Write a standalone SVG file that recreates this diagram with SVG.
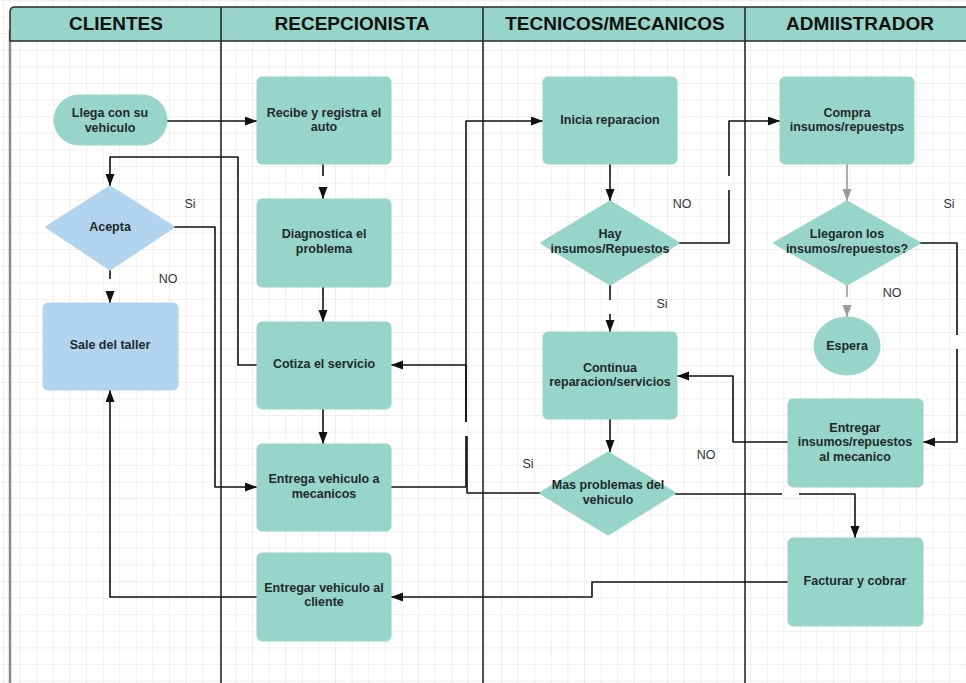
<svg xmlns="http://www.w3.org/2000/svg" width="966" height="683" viewBox="0 0 966 683">
  <defs>
    <pattern id="grid" width="16.6" height="16.6" patternUnits="userSpaceOnUse" x="4" y="1">
      <path d="M16.6,0 V16.6 M0,16.6 H16.6" fill="none" stroke="#e0e0e0" stroke-width="1"/>
    </pattern>
    <marker id="arr" markerUnits="userSpaceOnUse" markerWidth="13" markerHeight="10" refX="12" refY="4.5" orient="auto">
      <path d="M0,0 L12,4.5 L0,9 z" fill="#111"/>
    </marker>
    <marker id="arrGrey" markerUnits="userSpaceOnUse" markerWidth="13" markerHeight="10" refX="12" refY="4.5" orient="auto">
      <path d="M0,0 L12,4.5 L0,9 z" fill="#9a9a9a"/>
    </marker>
  </defs>
  <style>
    .lane { stroke: #2a2a2a; stroke-width: 1.6; fill: none; }
    .hdr { fill: #98d5c9; stroke: #2a2a2a; stroke-width: 1.5; }
    .htxt { font-family: "Liberation Sans", Arial, sans-serif; font-weight: bold; font-size: 19px; fill: #111; text-anchor: middle; dominant-baseline: central; }
    .box { fill: #98d5c9; stroke: #98d5c9; stroke-width: 1; }
    .blue { fill: #b2d4ee; stroke: #b2d4ee; stroke-width: 1; }
    .dia { stroke-width: 3; stroke-linejoin: round; }
    .t { font-family: "Liberation Sans", Arial, sans-serif; font-weight: bold; font-size: 12.5px; fill: #1e2a2a; text-anchor: middle; dominant-baseline: central; }
    .lbl { font-family: "Liberation Sans", Arial, sans-serif; font-size: 12.5px; fill: #333; text-anchor: middle; dominant-baseline: central; }
    .c { fill: none; stroke: #111; stroke-width: 1.6; stroke-linejoin: round; }
    .cg { fill: none; stroke: #9a9a9a; stroke-width: 1.6; }
  </style>

  <!-- background grid -->
  <rect x="0" y="0" width="966" height="683" fill="#ffffff"/>
  <rect x="0" y="0" width="966" height="683" fill="url(#grid)"/>

  <!-- swimlane frame -->
  <g id="lanes">
    <line x1="10" y1="30" x2="10" y2="683" stroke="#8a8a8a" stroke-width="2.5"/>
    <line class="lane" x1="221" y1="8" x2="221" y2="683"/>
    <line class="lane" x1="483" y1="8" x2="483" y2="683"/>
    <line class="lane" x1="745" y1="8" x2="745" y2="683"/>
    <path class="hdr" d="M10,41 V12 Q10,7 15,7 H980 V41 Z"/>
    <line class="lane" x1="221" y1="7" x2="221" y2="41"/>
    <line class="lane" x1="483" y1="7" x2="483" y2="41"/>
    <line class="lane" x1="745" y1="7" x2="745" y2="41"/>
    <text class="htxt" x="116" y="23">CLIENTES</text>
    <text class="htxt" x="352" y="23">RECEPCIONISTA</text>
    <text class="htxt" x="615" y="23">TECNICOS/MECANICOS</text>
    <text class="htxt" x="860" y="23">ADMIISTRADOR</text>
  </g>

  <!-- connectors -->
  <g id="connectors">
    <path class="c" d="M167,121 H257" marker-end="url(#arr)"/>
    <path class="c" d="M323,164 V176"/>
    <path class="c" d="M323,187 V199" marker-end="url(#arr)"/>
    <path class="c" d="M323,287 V322" marker-end="url(#arr)"/>
    <path class="c" d="M323,409 V444" marker-end="url(#arr)"/>
    <path class="c" d="M257,365 H238 V157 H110 V186" marker-end="url(#arr)"/>
    <path class="c" d="M174,227 H215 V487 H257" marker-end="url(#arr)"/>
    <path class="c" d="M110,270 V279"/>
    <path class="c" d="M110,291 V303" marker-end="url(#arr)"/>
    <path class="c" d="M391,487 H466 V436"/>
    <path class="c" d="M466,422 V121 H543" marker-end="url(#arr)"/>
    <path class="c" d="M541,493 H467 V436"/>
    <path class="c" d="M466,422 V365 H391" marker-end="url(#arr)"/>
    <path class="c" d="M610,164 V201" marker-end="url(#arr)"/>
    <path class="c" d="M679,243 H729 V190"/>
    <path class="c" d="M729,176 V121 H780" marker-end="url(#arr)"/>
    <path class="c" d="M610,285 V300"/>
    <path class="c" d="M610,314 V332" marker-end="url(#arr)"/>
    <path class="cg" d="M847,164 V201" marker-end="url(#arrGrey)"/>
    <path class="c" d="M920,243 H957 V335"/>
    <path class="c" d="M957,349 V442 H923" marker-end="url(#arr)"/>
    <path class="cg" d="M847,285 V297"/>
    <path class="cg" d="M847,307 V317" marker-end="url(#arrGrey)"/>
    <path class="c" d="M788,442 H733 V376 H677" marker-end="url(#arr)"/>
    <path class="c" d="M610,419 V452" marker-end="url(#arr)"/>
    <path class="c" d="M675,494 H782"/>
    <path class="c" d="M799,494 H855 V538" marker-end="url(#arr)"/>
    <path class="c" d="M788,582 H592 V597 H391" marker-end="url(#arr)"/>
    <path class="c" d="M257,597 H110 V390" marker-end="url(#arr)"/>
  </g>

  <!-- branch labels -->
  <g id="labels">
    <text class="lbl" x="190" y="204">Si</text>
    <text class="lbl" x="168" y="279">NO</text>
    <text class="lbl" x="682" y="204">NO</text>
    <text class="lbl" x="662" y="304">Si</text>
    <text class="lbl" x="949" y="204">Si</text>
    <text class="lbl" x="892" y="293">NO</text>
    <text class="lbl" x="528" y="464">Si</text>
    <text class="lbl" x="706" y="455">NO</text>
  </g>

  <!-- CLIENTES -->
  <g id="llega">
    <rect class="box" x="54" y="95" width="113" height="50" rx="25"/>
    <text class="t" x="110" y="113">Llega con su</text>
    <text class="t" x="110" y="127.5">vehiculo</text>
  </g>
  <g id="acepta">
    <polygon class="blue dia" points="110,187 173,227 110,269 47,227"/>
    <text class="t" x="110" y="227">Acepta</text>
  </g>
  <g id="sale">
    <rect class="blue" x="43" y="303" width="135" height="87" rx="5"/>
    <text class="t" x="110" y="345">Sale del taller</text>
  </g>

  <!-- RECEPCIONISTA -->
  <g id="recibe">
    <rect class="box" x="257" y="77" width="134" height="87" rx="5"/>
    <text class="t" x="324" y="112.5">Recibe y registra el</text>
    <text class="t" x="324" y="127">auto</text>
  </g>
  <g id="diagnostica">
    <rect class="box" x="257" y="199" width="134" height="88" rx="5"/>
    <text class="t" x="324" y="234">Diagnostica el</text>
    <text class="t" x="324" y="248.5">problema</text>
  </g>
  <g id="cotiza">
    <rect class="box" x="257" y="322" width="134" height="87" rx="5"/>
    <text class="t" x="324" y="363.5">Cotiza el servicio</text>
  </g>
  <g id="entrega-mecanicos">
    <rect class="box" x="257" y="444" width="134" height="87" rx="5"/>
    <text class="t" x="324" y="479">Entrega vehiculo a</text>
    <text class="t" x="324" y="493.5">mecanicos</text>
  </g>
  <g id="entregar-cliente">
    <rect class="box" x="257" y="553" width="134" height="88" rx="5"/>
    <text class="t" x="324" y="587.5">Entregar vehiculo  al</text>
    <text class="t" x="324" y="602">cliente</text>
  </g>

  <!-- TECNICOS/MECANICOS -->
  <g id="inicia">
    <rect class="box" x="543" y="77" width="134" height="87" rx="5"/>
    <text class="t" x="610" y="119.5">Inicia reparacion</text>
  </g>
  <g id="hay">
    <polygon class="box dia" points="610,202 678,243 610,284 542,243"/>
    <text class="t" x="610" y="234">Hay</text>
    <text class="t" x="610" y="248.5">insumos/Repuestos</text>
  </g>
  <g id="continua">
    <rect class="box" x="543" y="332" width="134" height="87" rx="5"/>
    <text class="t" x="610" y="367.5">Continua</text>
    <text class="t" x="610" y="382">reparacion/servicios</text>
  </g>
  <g id="mas-problemas">
    <polygon class="box dia" points="608,453 674,493 608,534 541,493"/>
    <text class="t" x="608" y="485">Mas problemas del</text>
    <text class="t" x="608" y="499.5">vehiculo</text>
  </g>

  <!-- ADMIISTRADOR -->
  <g id="compra">
    <rect class="box" x="780" y="77" width="134" height="87" rx="5"/>
    <text class="t" x="847" y="112.5">Compra</text>
    <text class="t" x="847" y="127">insumos/repuestps</text>
  </g>
  <g id="llegaron">
    <polygon class="box dia" points="847,202 919,243 847,284 775,243"/>
    <text class="t" x="847" y="234">Llegaron los</text>
    <text class="t" x="847" y="248.5">insumos/repuestos?</text>
  </g>
  <g id="espera">
    <ellipse class="box" cx="847" cy="346" rx="33" ry="29"/>
    <text class="t" x="847" y="345.5">Espera</text>
  </g>
  <g id="entregar-insumos">
    <rect class="box" x="788" y="399" width="135" height="88" rx="5"/>
    <text class="t" x="855" y="427.5">Entregar</text>
    <text class="t" x="855" y="442">insumos/repuestos</text>
    <text class="t" x="855" y="456.5">al mecanico</text>
  </g>
  <g id="facturar">
    <rect class="box" x="788" y="538" width="135" height="88" rx="5"/>
    <text class="t" x="855" y="581">Facturar y cobrar</text>
  </g>
</svg>
